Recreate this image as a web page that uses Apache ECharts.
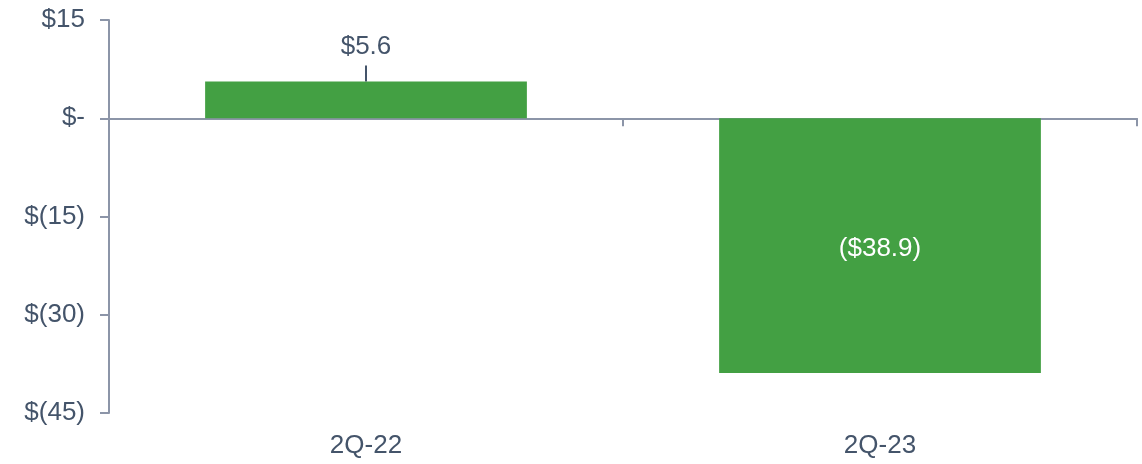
<!DOCTYPE html>
<html>
<head>
<meta charset="utf-8">
<script src="https://cdn.jsdelivr.net/npm/echarts@6/dist/echarts.min.js"></script>
<style>
html,body{margin:0;padding:0;background:#fff;}
#chart{width:1142px;height:464px;}
</style>
</head>
<body>
<div id="chart"></div>
<script>
var categories = ['2Q-22', '2Q-23'];
var values = [5.6, -38.9];
var yTicks = [-45, -30, -15, 0, 15];

var textColor = '#44546a';
var axisColor = '#8c95a8';
var barColor = '#43a043';
var fontFamily = '"Liberation Sans", Arial, sans-serif';
var fs = 26;

function fmtY(v) {
  if (v === 0) return '$-';
  if (v > 0) return '$' + v;
  return '$(' + (-v) + ')';
}

var chart = echarts.init(document.getElementById('chart'));
chart.setOption({
  animation: false,
  backgroundColor: '#fff',
  grid: { left: 109, right: 5, top: 20, bottom: 51, containLabel: false },
  xAxis: [
    {
      type: 'category',
      data: categories,
      axisLine: { onZero: true, lineStyle: { color: axisColor, width: 2 } },
      axisTick: { show: true, length: 8, lineStyle: { color: axisColor, width: 2 } },
      axisLabel: { show: false }
    },
    {
      type: 'category',
      data: categories,
      position: 'bottom',
      axisLine: { show: false, onZero: false },
      axisTick: { show: false },
      axisLabel: { color: textColor, fontSize: fs, fontFamily: fontFamily, margin: 20 }
    }
  ],
  yAxis: {
    type: 'value',
    min: yTicks[0],
    max: yTicks[yTicks.length - 1],
    interval: 15,
    splitLine: { show: false },
    axisLine: { show: true, lineStyle: { color: axisColor, width: 2 } },
    axisTick: { show: true, length: 9, lineStyle: { color: axisColor, width: 2 } },
    axisLabel: { color: textColor, fontSize: fs, fontFamily: fontFamily, margin: 24, formatter: fmtY }
  },
  series: [
    {
      type: 'bar',
      xAxisIndex: 0,
      barWidth: '62.6%',
      itemStyle: { color: barColor },
      data: values.map(function (v) {
        if (v >= 0) {
          return {
            value: v,
            label: {
              show: true,
              position: 'top',
              distance: 0,
              formatter: function (p) { return '{v|$' + p.value.toFixed(1) + '}\n{l|}'; },
              rich: {
                v: { color: textColor, fontSize: fs, fontFamily: fontFamily, lineHeight: 38, align: 'center' },
                l: { width: 2, height: 16, backgroundColor: textColor, align: 'center' }
              }
            }
          };
        }
        return {
          value: v,
          label: {
            show: true,
            position: 'inside',
            offset: [0, 3],
            color: '#ffffff',
            fontSize: fs,
            fontFamily: fontFamily,
            formatter: function (p) { return '($' + (-p.value).toFixed(1) + ')'; }
          }
        };
      })
    }
  ]
});
</script>
</body>
</html>
